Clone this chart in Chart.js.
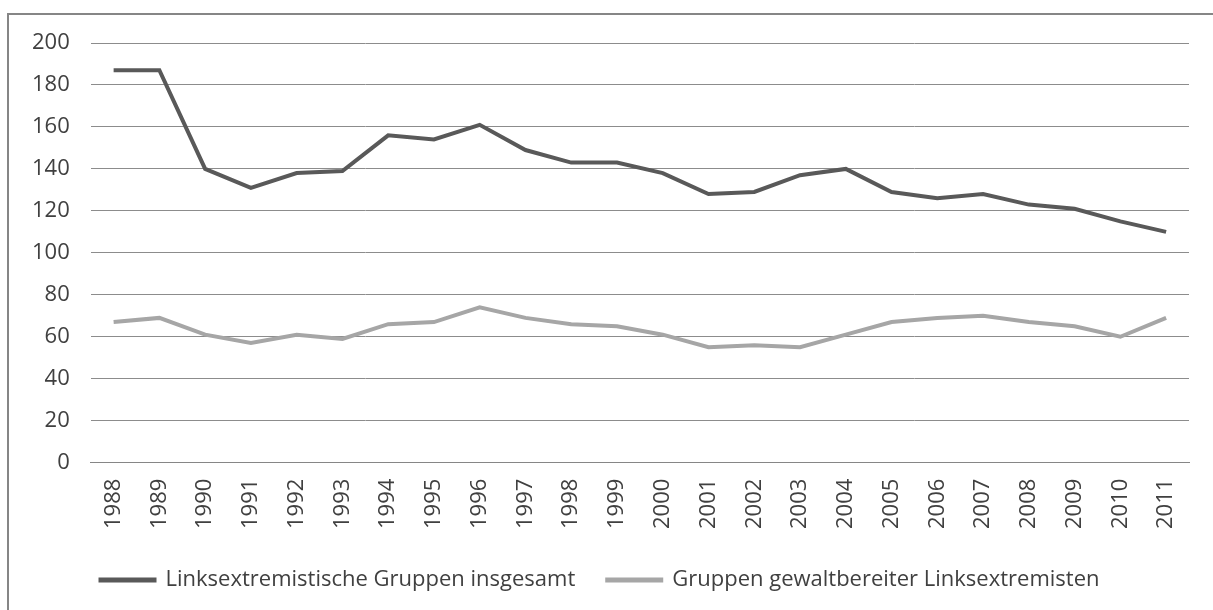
<!DOCTYPE html>
<html>
<head>
<meta charset="utf-8">
<script src="https://cdn.jsdelivr.net/npm/chart.js@4/dist/chart.umd.min.js"></script>
<style>
  html, body { margin: 0; padding: 0; background: #fff; }
  #wrap { position: relative; width: 1213px; height: 610px; overflow: hidden; }
  #rahmen { position: absolute; left: 7px; top: 13px; width: 1300px; height: 700px;
            border-left: 2px solid #868686; border-top: 2px solid #868686; }
  canvas { position: absolute; left: 0; top: 0; }
</style>
</head>
<body>
<div id="wrap">
  <div id="rahmen"></div>
  <canvas id="grafik" width="1213" height="610"></canvas>
</div>
<script>
// Jahre auf der x-Achse
const jahre = ["1988","1989","1990","1991","1992","1993","1994","1995","1996","1997","1998","1999",
               "2000","2001","2002","2003","2004","2005","2006","2007","2008","2009","2010","2011"];
// Werte
const insgesamt = [187,187,140,131,138,139,156,154,161,149,143,143,138,128,129,137,140,129,126,128,123,121,115,110];
const gewaltbereit = [67,69,61,57,61,59,66,67,74,69,66,65,61,55,56,55,61,67,69,70,67,65,60,69];
const namen = ["Linksextremistische Gruppen insgesamt", "Gruppen gewaltbereiter Linksextremisten"];

const schrift = { family: "'Open Sans', sans-serif", size: 22 };

const ctx = document.getElementById("grafik").getContext("2d");
const grafik = new Chart(ctx, {
    type: 'line',
    data: {
        labels: jahre,
        datasets: [
            {
                label: namen[0],
                data: insgesamt,
                borderColor: '#595959',
                backgroundColor: '#595959',
                borderWidth: 4,
                pointRadius: 0,
                tension: 0
            },
            {
                label: namen[1],
                data: gewaltbereit,
                borderColor: '#a6a6a6',
                backgroundColor: '#a6a6a6',
                borderWidth: 4,
                pointRadius: 0,
                tension: 0
            }
        ]
    },
    options: {
        responsive: false,
        animation: false,
        layout: { padding: { left: 11, right: 24, top: 43, bottom: 9 } },
        plugins: {
            tooltip: { enabled: false },
            legend: {
                position: 'bottom',
                labels: {
                    font: schrift,
                    color: '#404040',
                    boxWidth: 54,
                    boxHeight: 1,
                    padding: 32
                }
            }
        },
        scales: {
            x: {
                offset: true,
                grid: { display: false },
                border: { color: '#868686', width: 1 },
                ticks: {
                    font: schrift,
                    color: '#404040',
                    minRotation: 90,
                    maxRotation: 90,
                    autoSkip: false,
                    padding: 8
                }
            },
            y: {
                min: 0,
                max: 200,
                grid: { color: '#8c8c8c', drawTicks: false },
                border: { display: false },
                ticks: {
                    stepSize: 20,
                    font: schrift,
                    color: '#404040',
                    padding: 21
                }
            }
        }
    }
});
</script>
</body>
</html>
